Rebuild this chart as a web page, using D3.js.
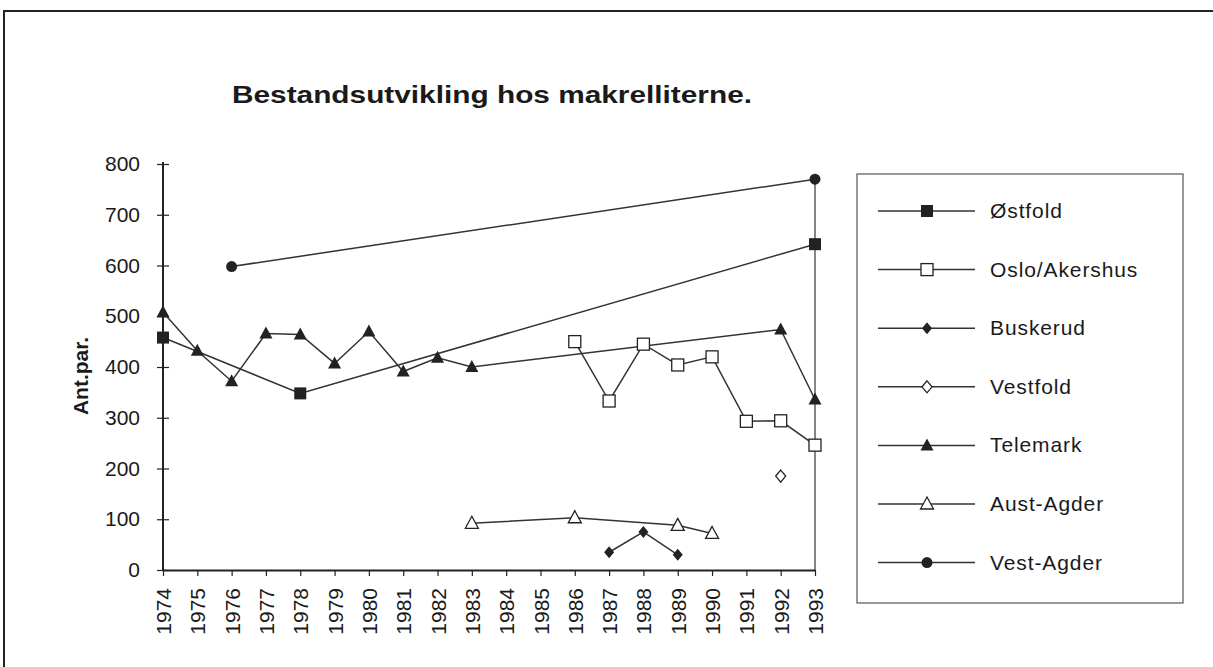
<!DOCTYPE html>
<html><head><meta charset="utf-8">
<script src="https://cdn.jsdelivr.net/npm/d3@7"></script>
<style>html,body{margin:0;padding:0;background:#fff;}svg{display:block;}text{font-family:Arial,"Liberation Sans",sans-serif;fill:#1a1a1a;}</style>
</head><body>
<svg id="c" width="1213" height="667"></svg>
<script>
const years = d3.range(1974, 1994);
const yTicks = [0,100,200,300,400,500,600,700,800];
const title = "Bestandsutvikling hos makrelliterne.";
const yLabel = "Ant.par.";
const seriesNames = ["Østfold","Oslo/Akershus","Buskerud","Vestfold","Telemark","Aust-Agder","Vest-Agder"];
const ostfold = [[1974,458],[1978,348],[1993,642]];
const osloAkershus = [[1986,450],[1987,333],[1988,445],[1989,404],[1990,420],[1991,293],[1992,294],[1993,246]];
const buskerud = [[1987,35],[1988,75],[1989,30]];
const vestfold = [[1992,185]];
const telemark = [[1974,508],[1975,432],[1976,372],[1977,466],[1978,464],[1979,407],[1980,470],[1981,391],[1982,418],[1983,400],[1992,474],[1993,336]];
const austAgder = [[1983,92],[1986,103],[1989,88],[1990,72]];
const vestAgder = [[1976,598],[1993,770]];
const seriesData = [ostfold, osloAkershus, buskerud, vestfold, telemark, austAgder, vestAgder];
const markers = ["sqFill","sqOpen","diamondFill","diamondOpen","triFill","triOpen","circleFill"];

const svg = d3.select("#c");
const ink = "#222";
// outer frame
svg.append("line").attr("x1",3).attr("x2",1213).attr("y1",11).attr("y2",11).attr("stroke",ink).attr("stroke-width",2);
svg.append("line").attr("x1",4).attr("x2",4).attr("y1",11).attr("y2",667).attr("stroke",ink).attr("stroke-width",2);

const x = d3.scalePoint().domain(years).range([163,815]).padding(0);
const y = d3.scaleLinear().domain([0,800]).range([570,164]);

svg.append("text").attr("x",232).attr("y",103).attr("font-size",23).attr("font-weight","bold")
  .attr("textLength",520).attr("lengthAdjust","spacingAndGlyphs").text(title);

// right vertical line at last category
svg.append("line").attr("x1",x(1993)).attr("x2",x(1993)).attr("y1",y(775)).attr("y2",y(0)).attr("stroke","#444").attr("stroke-width",1.3);

// y axis
const ya = svg.append("g").attr("transform",`translate(${x(1974)},0)`)
  .call(d3.axisLeft(y).tickValues(yTicks).tickSizeInner(6).tickSizeOuter(0).tickPadding(17));
ya.select(".domain").attr("stroke",ink).attr("stroke-width",2).attr("d",`M0,${y(800)-2}V${y(0)}`);
ya.selectAll(".tick line").attr("stroke",ink).attr("x1",6).attr("x2",-6).attr("stroke-width",1.2);
ya.selectAll(".tick text").attr("font-size",21).attr("fill","#1a1a1a").style("font-family","Arial,'Liberation Sans',sans-serif");

// x axis
const xa = svg.append("g").attr("transform",`translate(0,${y(0)})`)
  .call(d3.axisBottom(x).tickSizeInner(6).tickSizeOuter(0).tickPadding(8));
xa.select(".domain").attr("stroke",ink).attr("stroke-width",2);
xa.selectAll(".tick line").attr("stroke",ink).attr("stroke-width",1.2);
xa.selectAll(".tick text").attr("font-size",21).attr("fill","#1a1a1a")
  .style("font-family","Arial,'Liberation Sans',sans-serif")
  .attr("transform","rotate(-90)").attr("text-anchor","end").attr("dx","-18").attr("dy","0.36em").attr("x",0).attr("y",0);

svg.append("text").attr("transform",`translate(88,376) rotate(-90)`).attr("text-anchor","middle")
  .attr("font-size",21).attr("font-weight","bold").text(yLabel);

function drawMarker(g, type, cx, cy){
  const s = ink;
  if(type==="sqFill") g.append("rect").attr("x",cx-6).attr("y",cy-6).attr("width",12).attr("height",12).attr("fill",s);
  else if(type==="sqOpen") g.append("rect").attr("x",cx-6).attr("y",cy-6).attr("width",12).attr("height",12).attr("fill","#fff").attr("stroke",s).attr("stroke-width",1.3);
  else if(type==="diamondFill") g.append("path").attr("d",`M${cx},${cy-6}L${cx+5},${cy}L${cx},${cy+6}L${cx-5},${cy}Z`).attr("fill",s);
  else if(type==="diamondOpen") g.append("path").attr("d",`M${cx},${cy-6}L${cx+5},${cy}L${cx},${cy+6}L${cx-5},${cy}Z`).attr("fill","#fff").attr("stroke",s).attr("stroke-width",1.3);
  else if(type==="triFill") g.append("path").attr("d",`M${cx},${cy-7}L${cx+6.5},${cy+5}L${cx-6.5},${cy+5}Z`).attr("fill",s);
  else if(type==="triOpen") g.append("path").attr("d",`M${cx},${cy-7}L${cx+6.5},${cy+5}L${cx-6.5},${cy+5}Z`).attr("fill","#fff").attr("stroke",s).attr("stroke-width",1.3);
  else if(type==="circleFill") g.append("circle").attr("cx",cx).attr("cy",cy).attr("r",5.5).attr("fill",s);
}

const line = d3.line().x(d=>x(d[0])).y(d=>y(d[1]));
const plot = svg.append("g");
seriesData.forEach((data,i)=>{
  if(data.length>1) plot.append("path").attr("d",line(data)).attr("fill","none").attr("stroke","#333").attr("stroke-width",1.5);
});
seriesData.forEach((data,i)=>{
  data.forEach(d=>drawMarker(plot, markers[i], x(d[0]), y(d[1])));
});

// legend
const lg = svg.append("g");
lg.append("rect").attr("x",857).attr("y",174).attr("width",326).attr("height",429).attr("fill","#fff").attr("stroke","#555").attr("stroke-width",1.2);
seriesNames.forEach((name,i)=>{
  const cy = 211 + i*58.6;
  lg.append("line").attr("x1",878).attr("x2",975).attr("y1",cy).attr("y2",cy).attr("stroke","#333").attr("stroke-width",1.5);
  drawMarker(lg, markers[i], 927, cy);
  lg.append("text").attr("x",990).attr("y",cy+7).attr("font-size",21).attr("letter-spacing",0.9).text(name);
});
</script>
</body></html>
